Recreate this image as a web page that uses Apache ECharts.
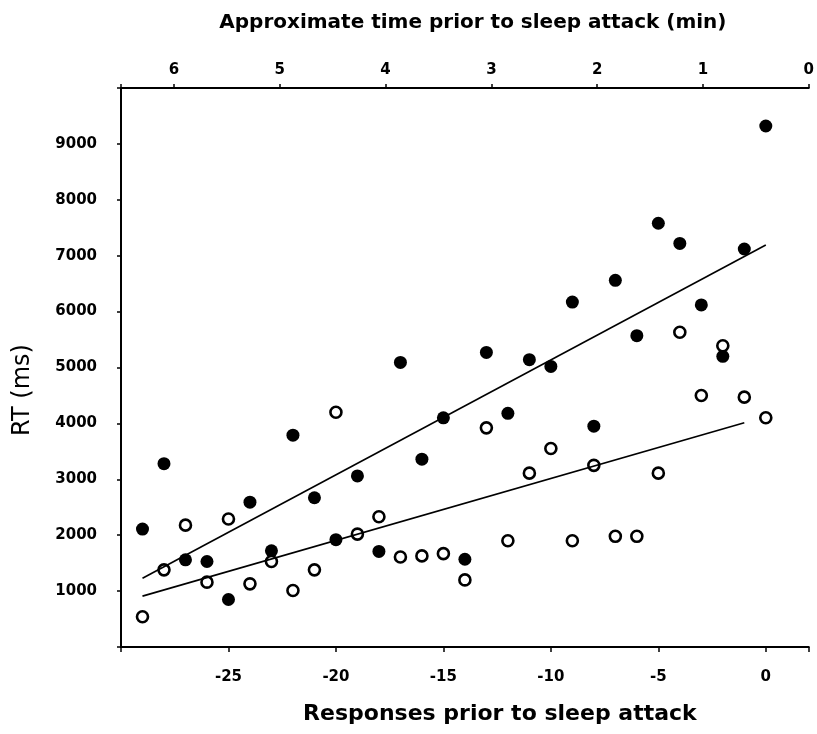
<!DOCTYPE html>
<html>
<head>
<meta charset="UTF-8">
<title>RT prior to sleep attack</title>
<script src="https://cdn.jsdelivr.net/npm/echarts@6/dist/echarts.min.js"></script>
</head>
<body style="margin:0;background:#fff;">
<div id="chart" style="width:817px;height:734px;"></div>
<script>
// responses before the sleep attack (x) and reaction times in ms
var responses = [-29,-28,-27,-26,-25,-24,-23,-22,-21,-20,-19,-18,-17,-16,-15,
                 -14,-13,-12,-11,-10,-9,-8,-7,-6,-5,-4,-3,-2,-1,0];
var filledRT = [2110,3280,1560,1530,850,2590,1720,3790,2670,1920,3060,1710,5090,3360,4100,
                1570,5270,4180,5140,5020,6170,3950,6560,5570,7580,7220,6120,5200,7120,9320];
var openRT   = [540,1380,2180,1160,2290,1130,1530,1010,1380,4200,2020,2330,1610,1630,1670,
                1200,3920,1900,3110,3550,1900,3250,1980,1980,3110,5630,4500,5390,4470,4100];
// fitted lines, endpoints
var fitFilled = [[-29,1230],[0,7190]];
var fitOpen   = [[-29,910],[-1,4010]];

var chart = echarts.init(document.getElementById('chart'));

function pairs(xs, ys){
    var out = [];
    for (var i = 0; i < xs.length; i++) {
        out.push([xs[i], ys[i]]);
    }
    return out;
}

var FONT = 'DejaVu Sans, Liberation Sans, sans-serif';
var axisFont = {fontFamily: FONT, fontWeight:'bold', fontSize:15, color:'#000'};

var option = {
    animation: false,
    backgroundColor: '#fff',
    grid: {left: 121, right: 4, top: 88, bottom: 87},
    xAxis: [
        {
            type: 'value',
            min: -30, max: 2, interval: 5,
            position: 'bottom',
            name: 'Responses prior to sleep attack',
            nameLocation: 'middle',
            nameGap: 56,
            nameTextStyle: {fontFamily: FONT, fontWeight:'bold', fontSize:22, color:'#000', padding:[0,0,0,70]},
            axisLine: {onZero:false, lineStyle: {color:'#000', width:2}},
            axisTick: {show:true, inside:false, length:5, lineStyle:{color:'#000', width:1.5}},
            axisLabel: Object.assign({margin:23, formatter: function(v){ return (v >= -25 && v <= 0) ? String(v) : ''; }}, axisFont),
            splitLine: {show:false}
        },
        {
            type: 'value',
            min: 0, max: 6.5, interval: 1,
            inverse: true,
            position: 'top',
            name: 'Approximate time prior to sleep attack (min)',
            nameLocation: 'middle',
            nameGap: 55,
            nameTextStyle: {fontFamily: FONT, fontWeight:'bold', fontSize:20, color:'#000', padding:[0,0,0,16]},
            axisLine: {onZero:false, lineStyle: {color:'#000', width:2}},
            axisTick: {show:true, inside:false, length:4, lineStyle:{color:'#000', width:1.5}},
            axisLabel: Object.assign({margin:10, formatter: function(v){ return v === Math.round(v) ? String(v) : ''; }}, axisFont),
            splitLine: {show:false}
        }
    ],
    yAxis: {
        type: 'value',
        min: 0, max: 10000, interval: 1000,
        name: 'RT (ms)',
        nameLocation: 'middle',
        nameGap: 86,
        nameTextStyle: {fontFamily: FONT, fontSize:24, color:'#000', padding:[0,45,0,0]},
        axisLine: {show:true, onZero:false, lineStyle: {color:'#000', width:2}},
        axisTick: {show:true, inside:false, length:4, lineStyle:{color:'#000', width:1.5}},
        axisLabel: Object.assign({margin:24, formatter: function(v){ return (v > 0 && v < 10000) ? String(v) : ''; }}, axisFont),
        splitLine: {show:false}
    },
    series: [
        {
            type: 'line',
            xAxisIndex: 0,
            data: fitFilled,
            symbol: 'none',
            lineStyle: {color:'#000', width:1.6}
        },
        {
            type: 'line',
            xAxisIndex: 0,
            data: fitOpen,
            symbol: 'none',
            lineStyle: {color:'#000', width:1.6}
        },
        {
            type: 'scatter',
            xAxisIndex: 0,
            data: pairs(responses, filledRT),
            symbol: 'circle',
            symbolSize: 13,
            itemStyle: {color:'#000', opacity:1}
        },
        {
            type: 'scatter',
            xAxisIndex: 0,
            data: pairs(responses, openRT),
            symbol: 'circle',
            symbolSize: 11,
            itemStyle: {color:'#fff', borderColor:'#000', borderWidth:2.6, opacity:1}
        }
    ]
};
chart.setOption(option);
</script>
</body>
</html>
